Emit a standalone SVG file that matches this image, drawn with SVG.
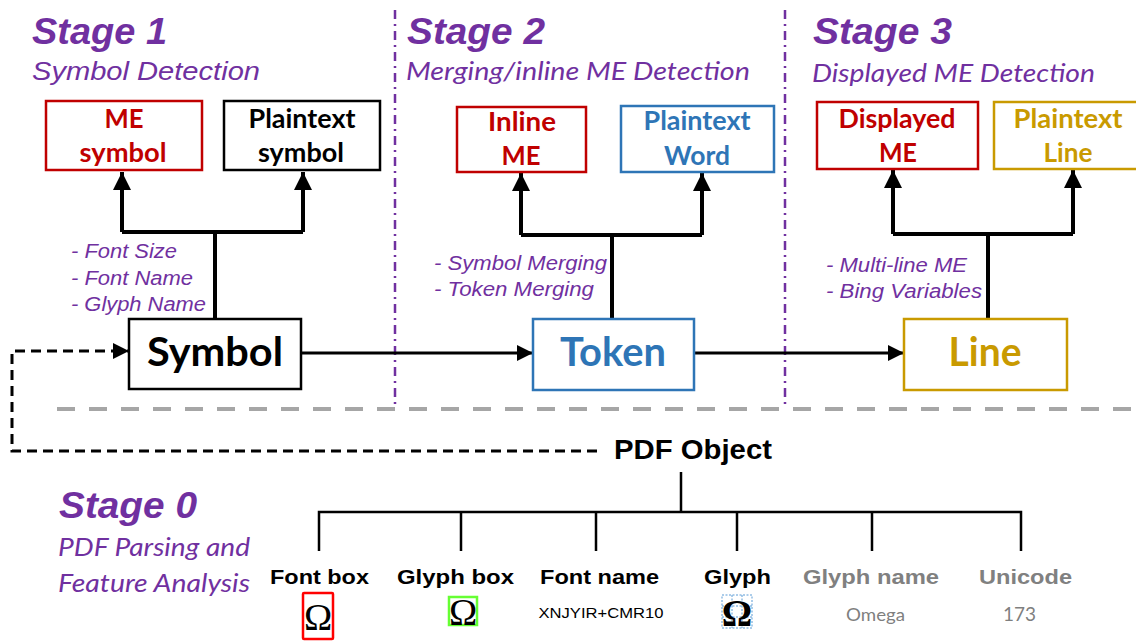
<svg xmlns="http://www.w3.org/2000/svg" width="1136" height="641" viewBox="0 0 1136 641">
<defs>
<style>
.stage{font-family:"Liberation Sans",Arial,sans-serif;font-weight:bold;font-style:italic;font-size:36px;fill:#7030A0}
.sub{font-family:Lato,"Open Sans",sans-serif;font-style:italic;font-size:26px;fill:#7030A0}
.suba{font-family:"Liberation Sans",Arial,sans-serif;font-style:italic;font-size:25px;fill:#7030A0}
.bul{font-family:"Liberation Sans",Arial,sans-serif;font-style:italic;font-size:20px;fill:#7030A0}
.bx{font-family:Lato,"Open Sans",sans-serif;font-weight:bold;font-size:27px;text-anchor:middle}
.big{font-family:Lato,"Open Sans",sans-serif;font-weight:bold;font-size:40px;text-anchor:middle}
.lab{font-family:"Liberation Sans",Arial,sans-serif;font-weight:bold;font-size:21px;text-anchor:middle}
.om{font-family:"Liberation Serif","Times New Roman",serif;font-size:38px;text-anchor:middle;fill:#000}
.conn{fill:none;stroke:#000;stroke-width:4}
.tree{fill:none;stroke:#000;stroke-width:2.5}
.sep{fill:none;stroke:#7030A0;stroke-width:2.5;stroke-dasharray:9 5 2 5}
</style>
<marker id="ah" viewBox="0 0 10 10" refX="10" refY="5" markerWidth="4.5" markerHeight="4.5" markerUnits="strokeWidth" orient="auto"><path d="M0,0 L10,5 L0,10 z" fill="#000"/></marker>
<marker id="ah2" viewBox="0 0 10 10" refX="10" refY="5" markerWidth="5.5" markerHeight="5.5" markerUnits="strokeWidth" orient="auto"><path d="M0,0 L10,5 L0,10 z" fill="#000"/></marker>
</defs>
<rect width="1136" height="641" fill="#fff"/>

<line class="sep" x1="395" y1="10" x2="395" y2="405"/>
<line class="sep" x1="785" y1="10" x2="785" y2="405"/>
<line x1="57" y1="409" x2="1136" y2="409" stroke="#A6A6A6" stroke-width="4" stroke-dasharray="18 14"/>

<g id="stage1-title">
<text class="stage" x="32" y="44" textLength="135" lengthAdjust="spacingAndGlyphs">Stage 1</text>
<text class="suba" x="32" y="80" textLength="228" lengthAdjust="spacingAndGlyphs">Symbol Detection</text>
</g>
<g id="stage2-title">
<text class="stage" x="407" y="44" textLength="138" lengthAdjust="spacingAndGlyphs">Stage 2</text>
<text class="sub" x="406" y="80" textLength="344" lengthAdjust="spacingAndGlyphs">Merging/inline ME Detection</text>
</g>
<g id="stage3-title">
<text class="stage" x="813" y="44" textLength="139" lengthAdjust="spacingAndGlyphs">Stage 3</text>
<text class="sub" x="812" y="82" textLength="283" lengthAdjust="spacingAndGlyphs">Displayed ME Detection</text>
</g>
<g id="stage0-title">
<text class="stage" x="59" y="518" textLength="138" lengthAdjust="spacingAndGlyphs">Stage 0</text>
<text class="sub" x="58" y="556" textLength="192" lengthAdjust="spacingAndGlyphs">PDF Parsing and</text>
<text class="sub" x="58" y="592" textLength="192" lengthAdjust="spacingAndGlyphs">Feature Analysis</text>
</g>

<g id="connectors">
<path class="conn" d="M215,319 V232 M122,232 H303"/>
<path class="conn" d="M122,232 V172" marker-end="url(#ah)"/>
<path class="conn" d="M303,232 V172" marker-end="url(#ah)"/>
<path class="conn" d="M612,319 V235 M521,235 H702"/>
<path class="conn" d="M521,235 V173" marker-end="url(#ah)"/>
<path class="conn" d="M702,235 V173" marker-end="url(#ah)"/>
<path class="conn" d="M988,319 V234 M893,234 H1073"/>
<path class="conn" d="M893,234 V170" marker-end="url(#ah)"/>
<path class="conn" d="M1073,234 V170" marker-end="url(#ah)"/>
<path fill="none" stroke="#000" stroke-width="3" d="M301,353 H533" marker-end="url(#ah2)"/>
<path fill="none" stroke="#000" stroke-width="3" d="M694,353 H904" marker-end="url(#ah2)"/>
<path fill="none" stroke="#000" stroke-width="3" stroke-dasharray="10 6" d="M597,451 H12 V351 H129" marker-end="url(#ah2)"/>
<path class="tree" d="M681,472 V512 M319,551 V512 H1021 V551 M461,512 V551 M596,512 V551 M737,512 V551 M872,512 V551"/>
</g>

<g id="features1">
<text class="bul" x="71" y="258" textLength="106" lengthAdjust="spacingAndGlyphs">- Font Size</text>
<text class="bul" x="71" y="285" textLength="122" lengthAdjust="spacingAndGlyphs">- Font Name</text>
<text class="bul" x="71" y="311" textLength="135" lengthAdjust="spacingAndGlyphs">- Glyph Name</text>
</g>
<g id="features2">
<text class="bul" x="434" y="270" textLength="173" lengthAdjust="spacingAndGlyphs">- Symbol Merging</text>
<text class="bul" x="434" y="296" textLength="160" lengthAdjust="spacingAndGlyphs">- Token Merging</text>
</g>
<g id="features3">
<text class="bul" x="826" y="272" textLength="141" lengthAdjust="spacingAndGlyphs">- Multi-line ME</text>
<text class="bul" x="826" y="298" textLength="156" lengthAdjust="spacingAndGlyphs">- Bing Variables</text>
</g>

<g id="me-symbol">
<rect x="46" y="101" width="156" height="69" fill="#fff" stroke="#C00000" stroke-width="2.5"/>
<text class="bx" x="124" y="128" fill="#C00000" textLength="39" lengthAdjust="spacingAndGlyphs">ME</text>
<text class="bx" x="123" y="162" fill="#C00000" textLength="87" lengthAdjust="spacingAndGlyphs">symbol</text>
</g>
<g id="plaintext-symbol">
<rect x="224" y="101" width="156" height="69" fill="#fff" stroke="#000" stroke-width="2.5"/>
<text class="bx" x="302" y="128" fill="#000" textLength="107" lengthAdjust="spacingAndGlyphs">Plaintext</text>
<text class="bx" x="301" y="162" fill="#000" textLength="86" lengthAdjust="spacingAndGlyphs">symbol</text>
</g>
<g id="inline-me">
<rect x="457" y="107" width="129" height="65" fill="#fff" stroke="#C00000" stroke-width="2.5"/>
<text class="bx" x="522" y="131" fill="#C00000" textLength="68" lengthAdjust="spacingAndGlyphs">Inline</text>
<text class="bx" x="521" y="165" fill="#C00000" textLength="39" lengthAdjust="spacingAndGlyphs">ME</text>
</g>
<g id="plaintext-word">
<rect x="621" y="106" width="153" height="66" fill="#fff" stroke="#2E75B6" stroke-width="2.5"/>
<text class="bx" x="697" y="130" fill="#2E75B6" textLength="107" lengthAdjust="spacingAndGlyphs">Plaintext</text>
<text class="bx" x="697" y="165" fill="#2E75B6" textLength="66" lengthAdjust="spacingAndGlyphs">Word</text>
</g>
<g id="displayed-me">
<rect x="817" y="102" width="161" height="67" fill="#fff" stroke="#C00000" stroke-width="2.5"/>
<text class="bx" x="897" y="128" fill="#C00000" textLength="117" lengthAdjust="spacingAndGlyphs">Displayed</text>
<text class="bx" x="898" y="162" fill="#C00000" textLength="38" lengthAdjust="spacingAndGlyphs">ME</text>
</g>
<g id="plaintext-line">
<rect x="994" y="102" width="170" height="67" fill="#fff" stroke="#C99A00" stroke-width="2.5"/>
<text class="bx" x="1068" y="128" fill="#C99A00" textLength="109" lengthAdjust="spacingAndGlyphs">Plaintext</text>
<text class="bx" x="1068" y="162" fill="#C99A00" textLength="49" lengthAdjust="spacingAndGlyphs">Line</text>
</g>

<g id="symbol">
<rect x="129" y="319" width="172" height="70" fill="#fff" stroke="#000" stroke-width="2.5"/>
<text class="big" x="215" y="366" fill="#000" textLength="136" lengthAdjust="spacingAndGlyphs">Symbol</text>
</g>
<g id="token">
<rect x="533" y="319" width="161" height="71" fill="#fff" stroke="#2E75B6" stroke-width="2.5"/>
<text class="big" x="613" y="366" fill="#2E75B6" textLength="106" lengthAdjust="spacingAndGlyphs">Token</text>
</g>
<g id="line">
<rect x="904" y="319" width="163" height="71" fill="#fff" stroke="#C99A00" stroke-width="2.5"/>
<text class="big" x="985" y="366" fill="#C99A00" textLength="73" lengthAdjust="spacingAndGlyphs">Line</text>
</g>

<g id="pdf-object">
<text x="614" y="459" font-family="Liberation Sans,Arial,sans-serif" font-weight="bold" font-size="28" fill="#000" textLength="158" lengthAdjust="spacingAndGlyphs">PDF Object</text>
</g>
<g id="font-box">
<text class="lab" x="319.5" y="584" fill="#000" textLength="99" lengthAdjust="spacingAndGlyphs">Font box</text>
<rect x="303" y="593" width="30" height="46" fill="none" stroke="#FF0000" stroke-width="2.5" rx="1"/>
<text class="om" x="318" y="630">Ω</text>
</g>
<g id="glyph-box">
<text class="lab" x="455.5" y="584" fill="#000" textLength="117" lengthAdjust="spacingAndGlyphs">Glyph box</text>
<rect x="449" y="597" width="28" height="28" fill="none" stroke="#66FF33" stroke-width="2.5"/>
<text class="om" x="463" y="625" font-size="36">Ω</text>
</g>
<g id="font-name">
<text class="lab" x="599.5" y="584" fill="#000" textLength="119" lengthAdjust="spacingAndGlyphs">Font name</text>
<text x="601" y="618" font-family="Liberation Sans,Arial,sans-serif" font-size="15" text-anchor="middle" fill="#000" textLength="125" lengthAdjust="spacingAndGlyphs">XNJYIR+CMR10</text>
</g>
<g id="glyph">
<text class="lab" x="737.5" y="584" fill="#000" textLength="67" lengthAdjust="spacingAndGlyphs">Glyph</text>
<g fill="none" stroke="#5B9BD5" stroke-width="1" stroke-dasharray="2 1.5">
<rect x="722" y="595" width="30" height="33"/>
<path d="M732,595 V628 M742,595 V628 M722,606 H752 M722,617 H752"/>
</g>
<text class="om" x="737" y="626" font-size="36" font-weight="bold">Ω</text>
</g>
<g id="glyph-name">
<text class="lab" x="871" y="584" fill="#808080" textLength="136" lengthAdjust="spacingAndGlyphs">Glyph name</text>
<text x="875.5" y="621" font-family="Lato,Open Sans,sans-serif" font-size="18" text-anchor="middle" fill="#7F7F7F" textLength="59" lengthAdjust="spacingAndGlyphs">Omega</text>
</g>
<g id="unicode">
<text class="lab" x="1025.5" y="584" fill="#808080" textLength="93" lengthAdjust="spacingAndGlyphs">Unicode</text>
<text x="1019.5" y="621" font-family="Lato,Open Sans,sans-serif" font-size="19" text-anchor="middle" fill="#7F7F7F" textLength="33" lengthAdjust="spacingAndGlyphs">173</text>
</g>
</svg>
